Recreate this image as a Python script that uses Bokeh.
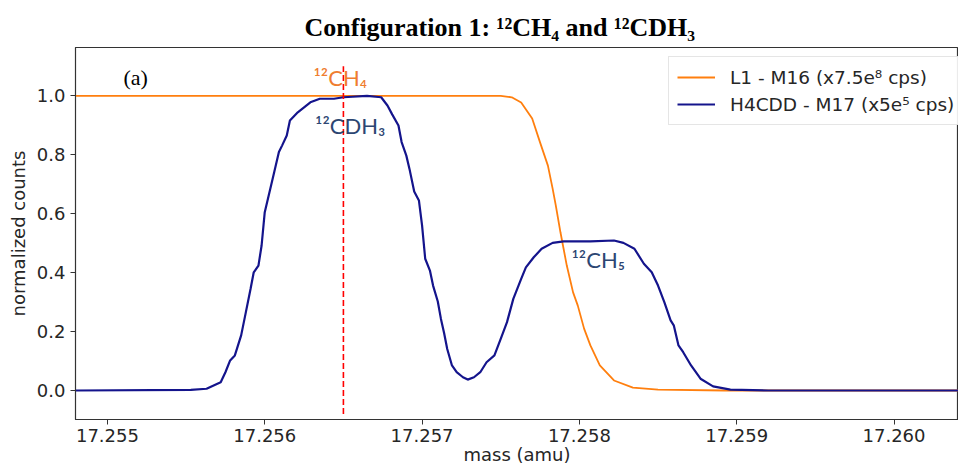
from bokeh.plotting import figure
from bokeh.models import Range1d, FixedTicker, PrintfTickFormatter, Label, Legend, LegendItem, Title
from bokeh.embed import file_html
from bokeh.resources import INLINE

# ---- data ----
l1_mass = [17.25480, 17.25700, 17.25750, 17.25757, 17.25763, 17.25770, 17.25775,
           17.25780, 17.25783, 17.25785, 17.25788, 17.25792, 17.25796, 17.25799,
           17.25803, 17.25807, 17.25813, 17.25822, 17.25834, 17.25850, 17.25892,
           17.26050]
l1_counts = [1.000, 1.000, 1.000, 0.995, 0.977, 0.923, 0.842,
             0.763, 0.685, 0.628, 0.536, 0.424, 0.333, 0.288,
             0.210, 0.153, 0.085, 0.034, 0.010, 0.003, 0.000,
             0.000]

h4_mass = [17.25480, 17.25553, 17.25563, 17.25572, 17.25575, 17.25578, 17.25581,
           17.25585, 17.25588, 17.25591, 17.25593, 17.25596, 17.25598, 17.25600,
           17.25603, 17.25606, 17.25609, 17.25611, 17.25614, 17.25616, 17.25621,
           17.25629, 17.25635, 17.25644, 17.25650, 17.25665, 17.25674, 17.25678,
           17.25681, 17.25685, 17.25687, 17.25690, 17.25692, 17.25695, 17.25698,
           17.25700, 17.25702, 17.25705, 17.25707, 17.25710, 17.25712, 17.25714,
           17.25716, 17.25719, 17.25722, 17.25726, 17.25729, 17.25733, 17.25737,
           17.25741, 17.25746, 17.25750, 17.25754, 17.25758, 17.25763, 17.25766,
           17.25771, 17.25776, 17.25783, 17.25790, 17.25807, 17.25822, 17.25828,
           17.25835, 17.25841, 17.25846, 17.25850, 17.25854, 17.25858, 17.25860,
           17.25863, 17.25866, 17.25871, 17.25877, 17.25885, 17.25896, 17.25920,
           17.26050]
h4_counts = [0.000, 0.002, 0.006, 0.028, 0.062, 0.102, 0.119,
             0.187, 0.266, 0.345, 0.401, 0.424, 0.492, 0.605,
             0.673, 0.741, 0.809, 0.831, 0.865, 0.916, 0.944,
             0.978, 0.990, 0.990, 0.995, 1.000, 0.995, 0.967,
             0.937, 0.899, 0.843, 0.797, 0.752, 0.675, 0.645,
             0.560, 0.447, 0.407, 0.356, 0.302, 0.243, 0.195,
             0.141, 0.085, 0.062, 0.045, 0.037, 0.045, 0.062,
             0.096, 0.119, 0.175, 0.232, 0.311, 0.379, 0.418,
             0.452, 0.481, 0.501, 0.506, 0.506, 0.509, 0.501,
             0.481, 0.430, 0.401, 0.356, 0.300, 0.238, 0.221,
             0.153, 0.130, 0.085, 0.040, 0.014, 0.003, 0.000,
             0.000]

ref_mass = 17.2565
ref_span = [-0.08, 1.10]

x_ticks = [17.255, 17.256, 17.257, 17.258, 17.259, 17.260]
y_ticks = [0.0, 0.2, 0.4, 0.6, 0.8, 1.0]

series_labels = ["L1 - M16 (x7.5e\u2078 cps)", "H4CDD - M17 (x5e\u2075 cps)"]
title_text = "Configuration 1: \u00b9\u00b2CH\u2084 and \u00b9\u00b2CDH\u2083"

ORANGE = "#ff7f0e"
BLUE = "#14148c"
ANNO_BLUE = "#2c4672"
ANNO_ORANGE = "#ef7d2f"
TXT = "#262626"

p = figure(width=958, height=469, output_backend="svg", toolbar_location=None,
           title=None,
           x_range=Range1d(17.254797, 17.260410), y_range=Range1d(-0.0984, 1.1639),
           min_border_left=75, min_border_right=0, min_border_top=47, min_border_bottom=50)

p.grid.visible = False
p.outline_line_color = "#333333"
p.outline_line_width = 1.2
p.background_fill_color = "white"
p.border_fill_color = "white"

r1 = p.line(l1_mass, l1_counts, line_color=ORANGE, line_width=1.8)
r2 = p.line(h4_mass, h4_counts, line_color=BLUE, line_width=2.2)
p.segment(x0=[ref_mass], y0=[ref_span[0]], x1=[ref_mass], y1=[ref_span[1]],
          line_color="red", line_width=1.6, line_dash="6 3")

for ax in (p.xaxis[0], p.yaxis[0]):
    ax.axis_line_color = "#333333"
    ax.major_tick_line_color = "#333333"
    ax.major_tick_out = 5
    ax.major_tick_in = 0
    ax.minor_tick_line_color = None
    ax.major_label_text_font = "DejaVu Sans"
    ax.major_label_text_font_size = "18px"
    ax.major_label_text_color = TXT
    ax.axis_label_text_font = "DejaVu Sans"
    ax.axis_label_text_font_size = "18px"
    ax.axis_label_text_font_style = "normal"
    ax.axis_label_text_color = TXT

p.xaxis.ticker = FixedTicker(ticks=x_ticks)
p.xaxis.formatter = PrintfTickFormatter(format="%.3f")
p.yaxis.ticker = FixedTicker(ticks=y_ticks)
p.yaxis.formatter = PrintfTickFormatter(format="%.1f")
p.xaxis.axis_label = "mass (amu)"
p.yaxis.axis_label = "normalized counts"
p.xaxis.major_label_standoff = 4
p.xaxis.axis_label_standoff = -1
p.yaxis.major_label_standoff = 5
p.yaxis.axis_label_standoff = 5

legend = Legend(items=[LegendItem(label=series_labels[0], renderers=[r1]),
                       LegendItem(label=series_labels[1], renderers=[r2])],
                location=(593, 294),
                label_text_font="DejaVu Sans", label_text_font_size="18.5px",
                label_text_color=TXT,
                glyph_width=38, glyph_height=24, label_height=24, spacing=3,
                label_standoff=15, padding=8, margin=0, label_width=270,
                border_line_color="#cccccc", border_line_width=1,
                background_fill_color="white", background_fill_alpha=0.9)
p.add_layout(legend)

title = Title(text=title_text, align="left", offset=229, vertical_align="bottom",
              text_font="Liberation Serif", text_font_style="bold",
              text_font_size="26px", text_color="black", standoff=12)
p.add_layout(title, "above")

p.add_layout(Label(x=17.255102, y=1.062, text="(a)", text_align="left",
                   text_baseline="alphabetic", text_font="Liberation Serif",
                   text_font_size="22px", text_color="black"))

p.add_layout(Label(x=17.25631, y=1.061, text="\u00b9\u00b2CH\u2084", text_align="left",
                   text_baseline="alphabetic", text_font="Lato",
                   text_font_size="22px", text_color=ANNO_ORANGE))
p.add_layout(Label(x=17.25632, y=0.899, text="\u00b9\u00b2CDH\u2083", text_align="left",
                   text_baseline="alphabetic", text_font="Lato",
                   text_font_size="22px", text_color=ANNO_BLUE))
p.add_layout(Label(x=17.25795, y=0.444, text="\u00b9\u00b2CH\u2085", text_align="left",
                   text_baseline="alphabetic", text_font="Lato",
                   text_font_size="22px", text_color=ANNO_BLUE))

open("out.html", "w").write(file_html(p, INLINE))
